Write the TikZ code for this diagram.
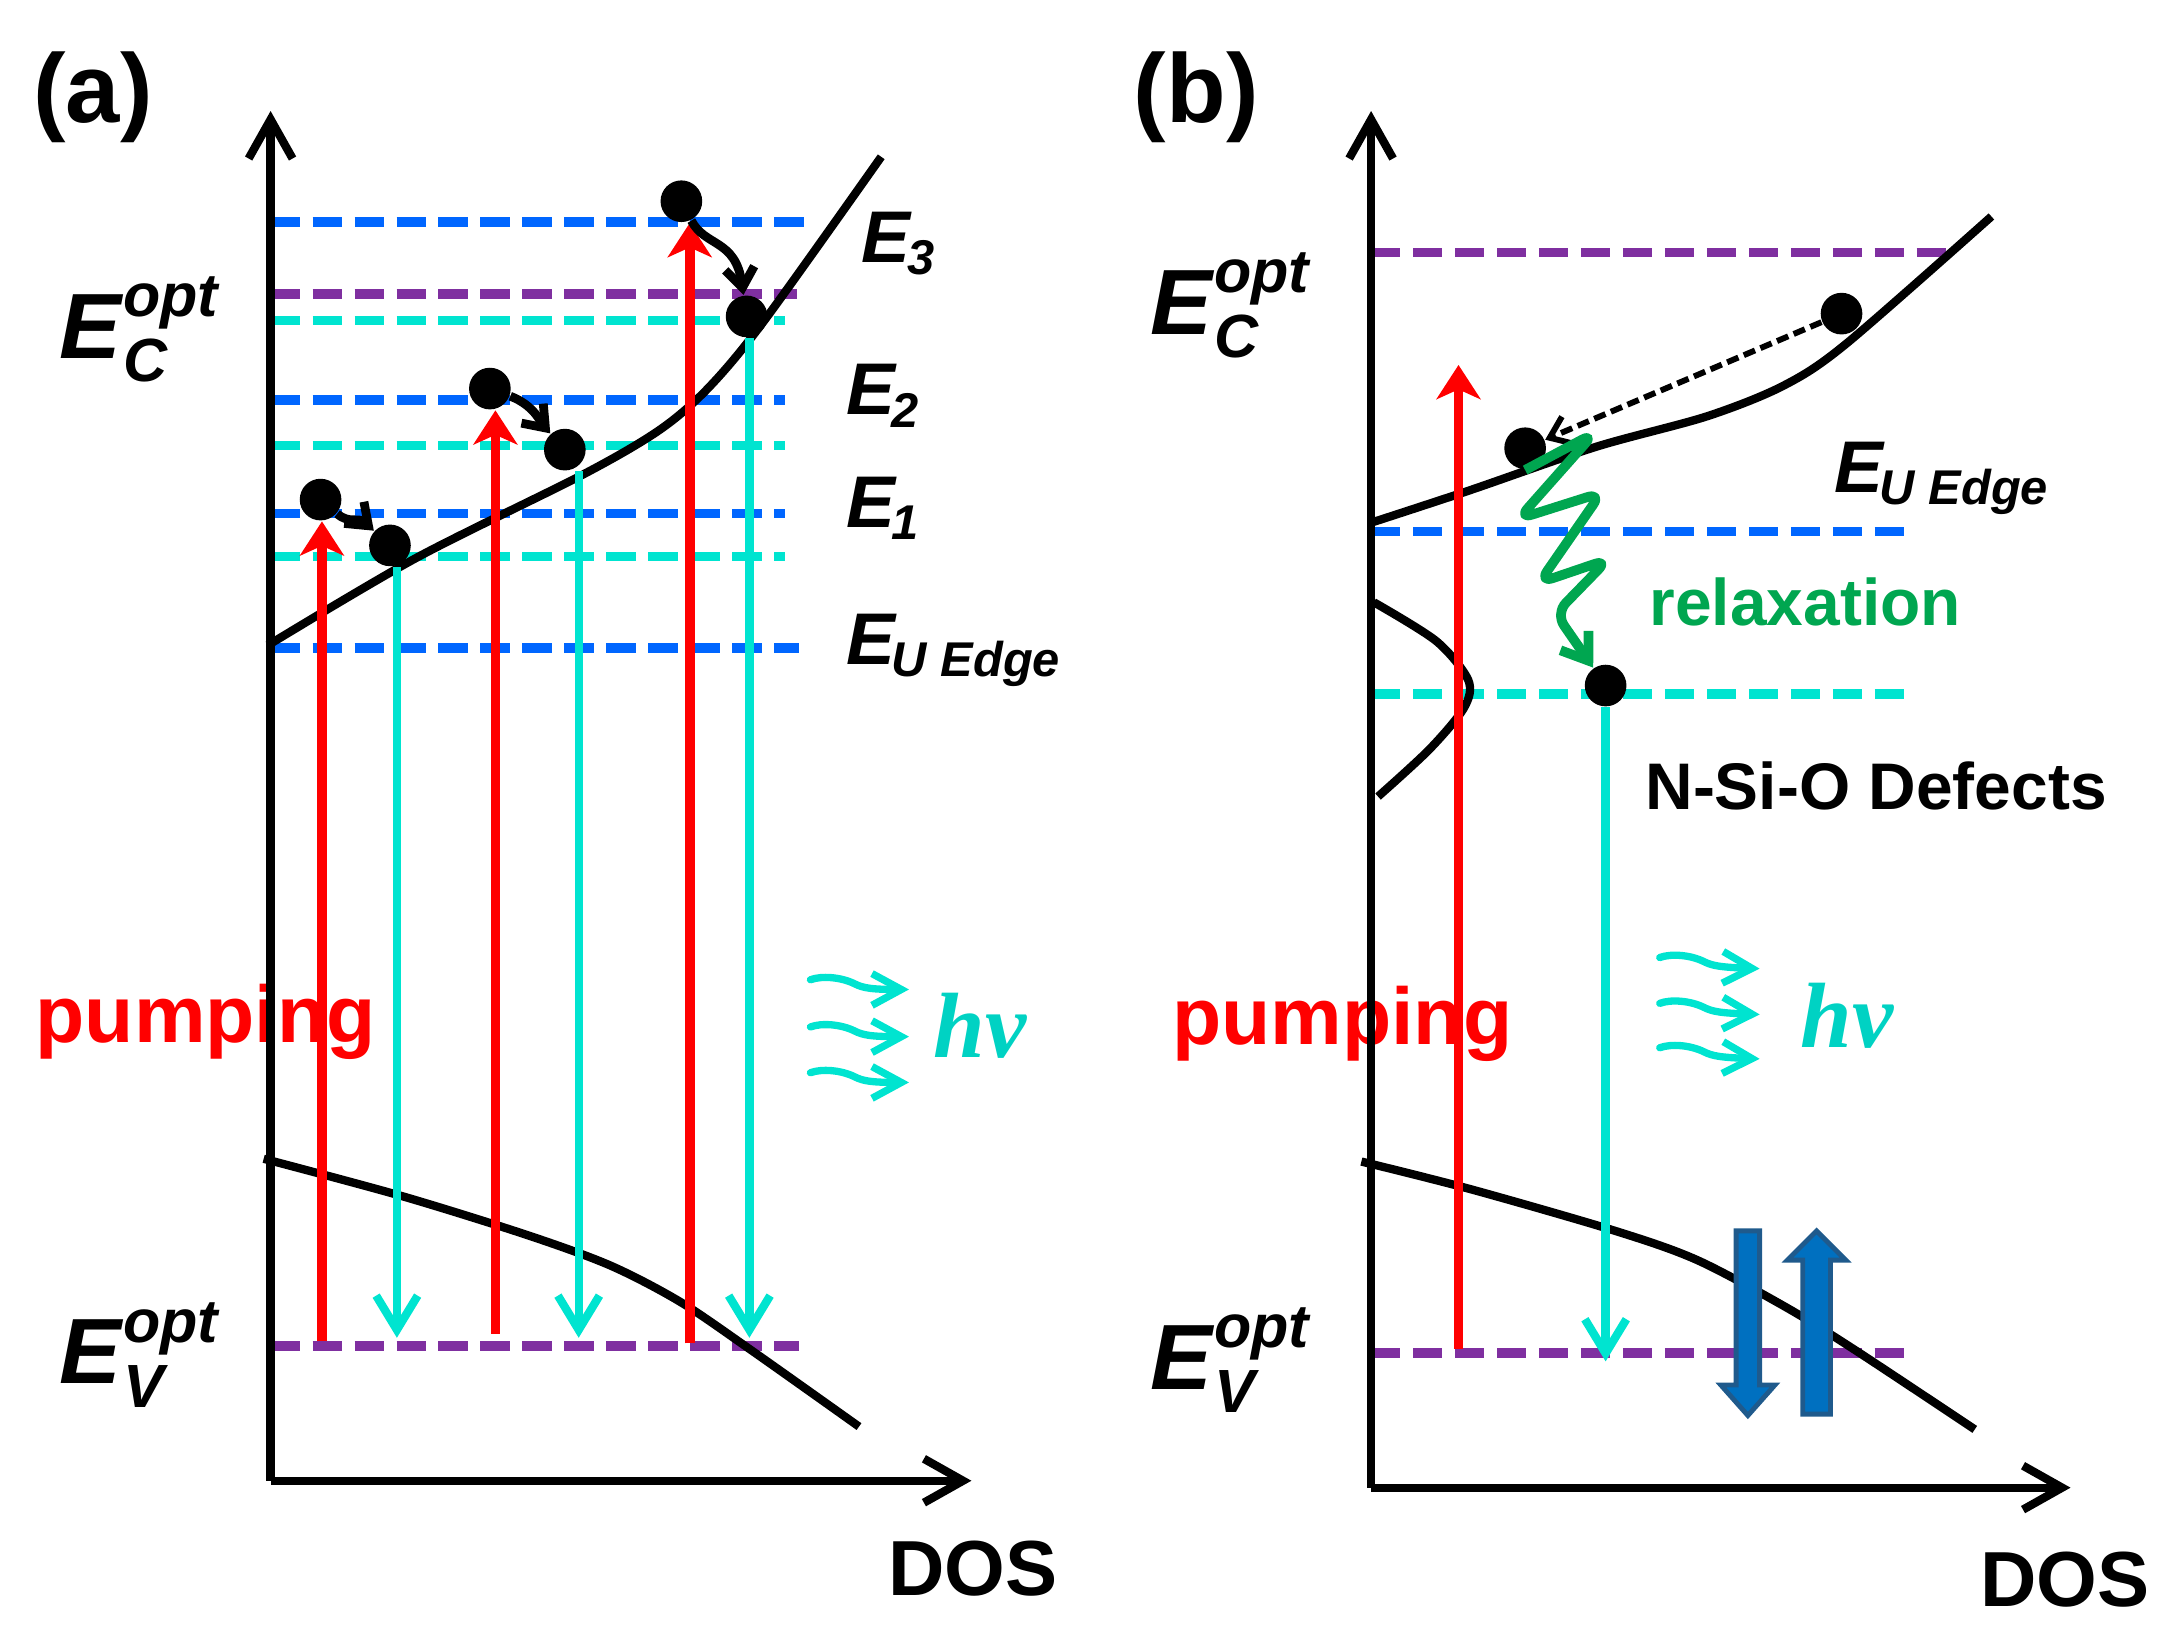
\documentclass[tikz,border=0pt]{standalone}
\usepackage{fontspec}
\setsansfont{Liberation Sans}
\newfontfamily\hvfont{Liberation Serif}
\usetikzlibrary{arrows.meta}

\definecolor{lvlblue}{RGB}{0,102,255}
\definecolor{lvlpurple}{RGB}{127,47,160}
\definecolor{emitcyan}{RGB}{0,228,208}
\definecolor{hvcyan}{RGB}{0,210,195}
\definecolor{pumpred}{RGB}{255,0,0}
\definecolor{relaxgreen}{RGB}{0,166,80}
\definecolor{spinfill}{RGB}{0,112,192}
\definecolor{spinedge}{RGB}{31,90,140}

\newcommand{\fsz}[1]{\fontsize{#1}{#1}\selectfont}
\newcommand{\Elev}[1]{\textit{E}\kern-1pt\raisebox{-2.5pt}{\fsz{10}\textit{#1}}}
\newcommand{\Eopt}[1]{\textit{E}\rlap{\raisebox{8.5pt}{\fsz{12.5}\textit{opt}}}\raisebox{-4.8pt}{\fsz{12.5}\textit{#1}}}

\begin{document}
\begin{tikzpicture}[x=0.01cm,y=-0.01cm,
  lbl/.style={inner sep=0pt, font=\sffamily\bfseries},
  level/.style={line width=2pt, dash pattern=on 6pt off 2.6pt},
  band/.style={line width=1.7pt},
  axis/.style={line width=1.7pt, -{Straight Barb[length=8pt,width=9pt]}},
  pump/.style={pumpred, line width=2pt, -{Stealth[length=7pt,width=9pt,inset=2pt]}},
  emit/.style={emitcyan, line width=1.7pt, -{Straight Barb[length=7pt,width=8.5pt]}},
  electron/.style={circle, fill=black, inner sep=0pt, minimum size=0.3cm},
  photon/.style={emitcyan, line width=1.5pt, line cap=round, -{Straight Barb[length=6pt,width=6.5pt]}},
  hop/.style={line width=1.8pt, -{Straight Barb[length=4pt,width=6pt]}},
  drift/.style={line width=1.2pt, dash pattern=on 2.5pt off 1.2pt, -{Straight Barb[length=4pt,width=6pt]}},
  relax/.style={relaxgreen, line width=2pt, line join=round, rounded corners=3pt, -{Straight Barb[length=5pt,width=7pt]}},
  spin/.style={draw=spinedge, fill=spinfill, line width=1pt}]
\useasboundingbox (0,0) rectangle (1568,1185);

% ---------------- panel (a)
\node[lbl, font=\sffamily\bfseries\fsz{20}] (tagA) at (67,70) {(a)};
\node[lbl, font=\sffamily\bfseries\fsz{16.5}, pumpred, anchor=base west] (pumpA) at (25,751) {pumping};

% levels
\draw[level, lvlblue]   (195,160) -- (586,160);
\draw[level, lvlpurple] (195,212) -- (574,212);
\draw[level, emitcyan]  (195,231) -- (566,231);
\draw[level, lvlblue]   (195,288) -- (566,288);
\draw[level, emitcyan]  (195,321) -- (566,321);
\draw[level, lvlblue]   (195,370) -- (566,370);
\draw[level, emitcyan]  (195,401) -- (566,401);
\draw[level, lvlblue]   (195,467) -- (576,467);
\draw[level, lvlpurple] (195,970) -- (576,970);

% bands
\draw[band] plot[smooth, tension=0.5] coordinates {(193,465) (300,402) (420,342) (475,310) (510,280) (550,232) (635,113)};
\draw[band] plot[smooth, tension=0.5] coordinates {(190,835) (290,862) (380,890) (440,912) (490,938) (540,972) (619,1028)};

% axes
\coordinate (oA) at (195,1067);
\coordinate (yA) at (195,80);
\coordinate (xA) at (700,1067);
\draw[axis] (oA) -- (yA);
\draw[axis] (oA) -- (xA);
\node[lbl, font=\sffamily\bfseries\fsz{16}] (dosA) at (701,1130) {DOS};

% electrons
\node[electron] (e1a) at (231,360) {};
\node[electron] (e1b) at (281,393) {};
\node[electron] (e2a) at (353,280) {};
\node[electron] (e2b) at (407,324) {};
\node[electron] (e3a) at (491,145) {};
\node[electron] (e3b) at (538,228) {};

% pumping and emission
\coordinate (pA1) at (232,966);
\coordinate (pA2) at (357,961);
\coordinate (pA3) at (497,968);
\draw[pump] (pA1) -- (pA1 |- e1a.south);
\draw[pump] (pA2) -- (pA2 |- e2a.south);
\draw[pump] (pA3) -- (pA3 |- e3a.south);
\coordinate (cA1) at (286,964);
\coordinate (cA2) at (417,964);
\coordinate (cA3) at (540,964);
\draw[emit] (cA1 |- e1b.south) -- (cA1);
\draw[emit] (cA2 |- e2b.south) -- (cA2);
\draw[emit] (cA3 |- e3b.south) -- (cA3);

\draw[hop] (e1a) .. controls (252,378) and (258,372) .. (e1b);
\draw[hop] (e2a) .. controls (385,292) and (390,305) .. (e2b);
\draw[hop] (e3a) .. controls (508,178) and (530,172) .. (e3b);

\foreach \dy in {0,34,67}
  \draw[photon, shift={(584,705+\dy)}] (0,1) .. controls (8,-2) and (22,-1) .. (32,4) .. controls (38,7) and (44,8) .. (71,8);
\node[lbl, font=\hvfont\bfseries\itshape\fsz{19}, hvcyan, anchor=base west] (hvA) at (672,762) {hν};

% labels
\node[lbl, font=\sffamily\bfseries\fsz{19}, anchor=base west] (EcA) at (42,258) {\Eopt{C}};
\node[lbl, font=\sffamily\bfseries\fsz{19}, anchor=base west] (EvA) at (42,997) {\Eopt{V}};
\node[lbl, font=\sffamily\bfseries\fsz{15}, anchor=base west] (E3) at (620,189) {\Elev{3}};
\node[lbl, font=\sffamily\bfseries\fsz{15}, anchor=base west] (E2) at (609,299) {\Elev{2}};
\node[lbl, font=\sffamily\bfseries\fsz{15}, anchor=base west] (E1) at (609,380) {\Elev{1}};
\node[lbl, font=\sffamily\bfseries\fsz{15}, anchor=base west] (EuA) at (609,479) {\Elev{U Edge}};

% ---------------- panel (b)
\node[lbl, font=\sffamily\bfseries\fsz{20}] (tagB) at (862,70) {(b)};
\node[lbl, font=\sffamily\bfseries\fsz{16.5}, pumpred, anchor=base west] (pumpB) at (844,753) {pumping};

\draw[level, lvlpurple] (988,182) -- (1403,182);
\draw[level, lvlblue]   (988,383) -- (1374,383);
\draw[level, emitcyan]  (988,500) -- (1374,500);
\draw[level, lvlpurple] (988,975) -- (1374,975);

\draw[band] plot[smooth, tension=0.5] coordinates {(990,376) (1060,353) (1150,322) (1230,300) (1285,278) (1330,248) (1435,156)};
\draw[band] plot[smooth] coordinates {(990,434) (1035,462) (1058,490) (1055,510) (1030,540) (993,574)};
\draw[band] plot[smooth, tension=0.5] coordinates {(981,837) (1060,857) (1164,887) (1223,908) (1287,942) (1337,973) (1423,1030)};

\coordinate (oB) at (988,1072);
\coordinate (yB) at (988,80);
\coordinate (xB) at (1492,1072);
\draw[axis] (oB) -- (yB);
\draw[axis] (oB) -- (xB);
\node[lbl, font=\sffamily\bfseries\fsz{16}] (dosB) at (1488,1138) {DOS};

\node[electron] (eB1) at (1327,226) {};
\node[electron] (eB2) at (1099,323) {};
\node[electron] (eB3) at (1157,494) {};

\coordinate (pB0) at (1051,972);
\coordinate (pB1) at (1051,263);
\draw[pump] (pB0) -- (pB1);
\coordinate (cB) at (1157,981);
\draw[emit] (eB3.south) -- (cB);

\draw[drift] (eB1) -- (eB2);
\draw[relax] (eB2.south) -- (1149,312) -- (1094,374) -- (1154,355) -- (1109,420) -- (1159,403) -- (1121,442) -- (eB3);

\foreach \dy in {0,33,65}
  \draw[photon, shift={(1196,689+\dy)}] (0,1) .. controls (8,-2) and (22,-1) .. (32,4) .. controls (38,7) and (44,8) .. (72,9);
\node[lbl, font=\hvfont\bfseries\itshape\fsz{19}, hvcyan, anchor=base west] (hvB) at (1297,755) {hν};

% spin arrows
\draw[spin] (1251,887) -- (1268,887) -- (1268,998) -- (1279,998) -- (1259.5,1020) -- (1240,998) -- (1251,998) -- cycle;
\draw[spin] (1299,1019) -- (1319,1019) -- (1319,908) -- (1330,908) -- (1309,887) -- (1288,908) -- (1299,908) -- cycle;

\node[lbl, font=\sffamily\bfseries\fsz{19}, anchor=base west] (EcB) at (828,241) {\Eopt{C}};
\node[lbl, font=\sffamily\bfseries\fsz{19}, anchor=base west] (EvB) at (828,1001) {\Eopt{V}};
\node[lbl, font=\sffamily\bfseries\fsz{15}, anchor=base west] (EuB) at (1321,355) {\Elev{U Edge}};
\node[lbl, font=\sffamily\bfseries\fsz{13.5}, relaxgreen, anchor=base west] (relaxB) at (1188,451) {relaxation};
\node[lbl, font=\sffamily\bfseries\fsz{13.5}, anchor=base west] (defB) at (1185,583) {N-Si-O Defects};

\end{tikzpicture}
\end{document}
